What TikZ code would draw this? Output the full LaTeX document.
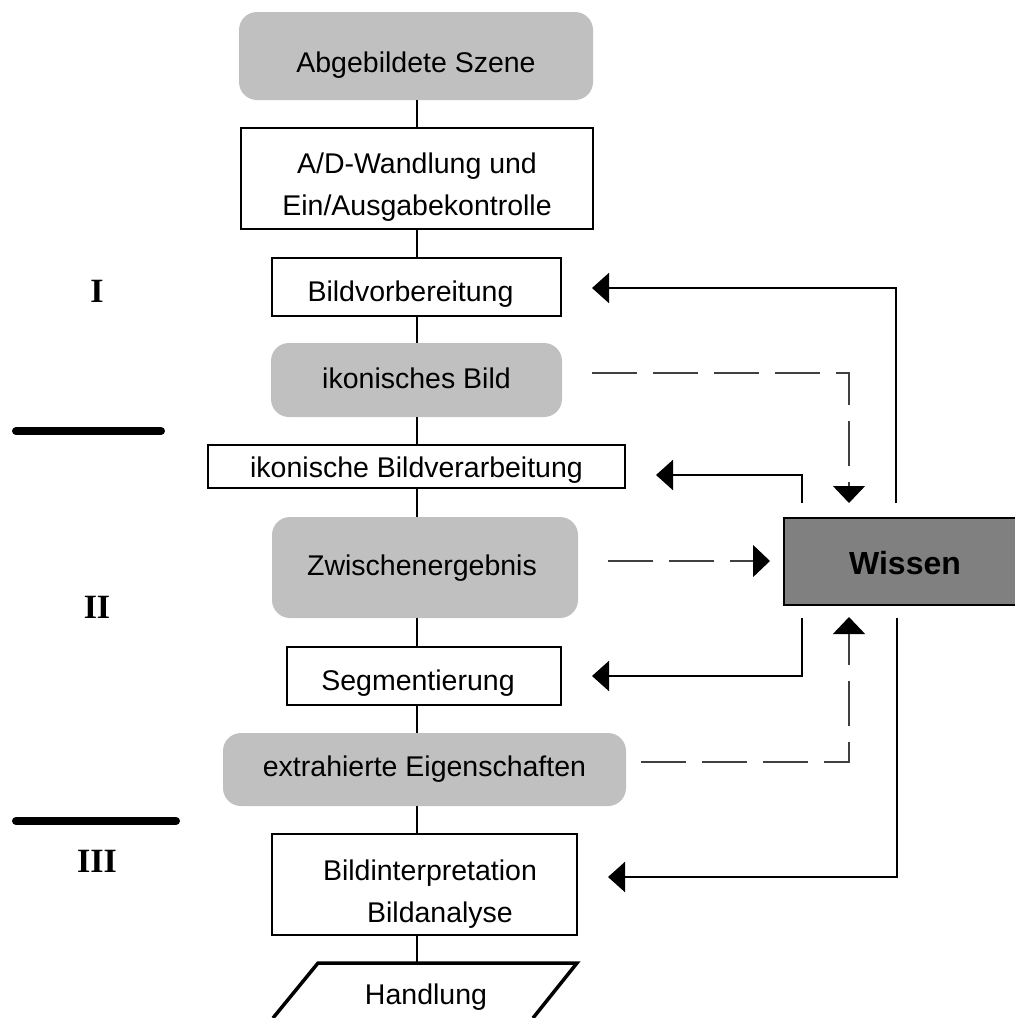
\documentclass[tikz,border=0pt]{standalone}
\usepackage{fontspec}
\setmainfont{Liberation Sans}
\newfontfamily\romfont{Liberation Serif}
\usetikzlibrary{arrows.meta,calc}
\definecolor{boxgray}{HTML}{C0C0C0}
\definecolor{wgray}{HTML}{808080}
\definecolor{dashgray}{HTML}{404040}
\newcommand{\lowered}[2]{\raisebox{-#1}[\height][\depth]{#2}}
\newcommand{\twolines}[2]{\begin{tabular}{@{}c@{}}#1\\#2\end{tabular}}
\begin{document}
\begin{tikzpicture}[x=1pt,y=-1pt,
  every node/.style={font=\fontsize{28.5}{42}\selectfont, inner sep=0pt, outer sep=0pt},
  softbox/.style={fill=boxgray, rounded corners=18pt, draw=none},
  stepbox/.style={draw=black, line width=2pt, fill=white},
  conn/.style={line width=2pt, draw=black},
  fb/.style={line width=2pt, draw=black, -{Triangle[length=17pt,width=30pt,black]}},
  fbd/.style={line width=1.1pt, draw=dashgray, dash pattern=on 45pt off 16pt, -{Triangle[length=17pt,width=32pt,black,fill=black]}},
  bar/.style={line width=8pt, line cap=round},
  roman/.style={font=\romfont\bfseries\fontsize{34}{40}\selectfont}
]
\useasboundingbox (0,0) rectangle (1015,1018);
\clip (0,0) rectangle (1015,1018);
\coordinate (spine) at (417,0);

% main column
\node[softbox, minimum width=354pt, minimum height=88pt] (szene) at (416,56) {\lowered{9pt}{Abgebildete Szene}};
\node[stepbox, minimum width=352pt, minimum height=101pt] (ad) at (417,178.5) {\lowered{8pt}{\twolines{A/D-Wandlung und}{Ein/Ausgabekontrolle}}};
\node[stepbox, minimum width=289pt, minimum height=58pt] (vorb) at (416.5,287) {\lowered{7pt}{\hspace*{-12pt}Bildvorbereitung}};
\node[softbox, minimum width=291pt, minimum height=74pt] (ikbild) at (416.5,380) {\lowered{-2pt}{ikonisches Bild}};
\node[stepbox, minimum width=417pt, minimum height=43pt] (ikver) at (416.5,466.5) {\lowered{4pt}{ikonische Bildverarbeitung}};
\node[softbox, minimum width=306pt, minimum height=101pt] (zwisch) at (425,567.5) {\lowered{1pt}{\hspace*{-6pt}Zwischenergebnis}};
\node[stepbox, minimum width=274pt, minimum height=58pt] (segm) at (424,676) {\lowered{7pt}{\hspace*{-12pt}Segmentierung}};
\node[softbox, minimum width=403pt, minimum height=73pt] (extr) at (424.5,769.5) {extrahierte Eigenschaften};
\node[stepbox, minimum width=305pt, minimum height=101pt] (interp) at (424.5,884.5) {\lowered{9pt}{\twolines{\hspace*{11pt}Bildinterpretation}{\hspace*{31pt}Bildanalyse}}};

% Handlung parallelogram (cut by the border)
\draw[line width=3.5pt, line join=miter] (273,1018) -- (318,963) -- (577,963) -- (533,1018);
\coordinate (htop) at (417,963);
\node (handlung) at (426,997) {Handlung};

% spine connectors
\draw[conn] (szene.south -| spine) -- (ad.north -| spine);
\draw[conn] (ad.south -| spine) -- (vorb.north -| spine);
\draw[conn] (vorb.south -| spine) -- (ikbild.north -| spine);
\draw[conn] (ikbild.south -| spine) -- (ikver.north -| spine);
\draw[conn] (ikver.south -| spine) -- (zwisch.north -| spine);
\draw[conn] (zwisch.south -| spine) -- (segm.north -| spine);
\draw[conn] (segm.south -| spine) -- (extr.north -| spine);
\draw[conn] (extr.south -| spine) -- (interp.north -| spine);
\draw[conn] (interp.south -| spine) -- (htop);

% Wissen
\node[draw=black, line width=2.5pt, fill=wgray, minimum width=242pt, minimum height=87pt] (wissen) at (905,561.5) {};
\node[font=\bfseries\fontsize{32}{38}\selectfont] (wtext) at (905,563) {Wissen};

% feedback arrows
\coordinate (k1s) at (896,503); \coordinate (k1e) at (592,288);
\coordinate (k2s) at (802,503); \coordinate (k2e) at (656,475);
\coordinate (k3s) at (802,618); \coordinate (k3e) at (592,676);
\coordinate (k4s) at (897,618); \coordinate (k4e) at (608,877);
\draw[fb] (k1s) |- (k1e);
\draw[fb] (k2s) |- (k2e);
\draw[fb] (k3s) |- (k3e);
\draw[fb] (k4s) |- (k4e);

% dashed inputs to Wissen
\coordinate (d1s) at (592,373); \coordinate (d1e) at (849,503);
\coordinate (d2s) at (608,561); \coordinate (d2e) at (770,561);
\coordinate (d3s) at (641,762); \coordinate (d3e) at (849,617);
\draw[fbd] (d1s) -| (d1e);
\draw[fbd] (d2s) -- (d2e);
\draw[fbd] (d3s) -| (d3e);

% level markers
\node[roman] (r1) at (97,291) {I};
\node[roman] (r2) at (97,607) {II};
\node[roman] (r3) at (97,861) {III};
\coordinate (b1a) at (16,431); \coordinate (b1b) at (161,431);
\coordinate (b2a) at (16,821); \coordinate (b2b) at (176,821);
\draw[bar] (b1a) -- (b1b);
\draw[bar] (b2a) -- (b2b);
\end{tikzpicture}
\end{document}
